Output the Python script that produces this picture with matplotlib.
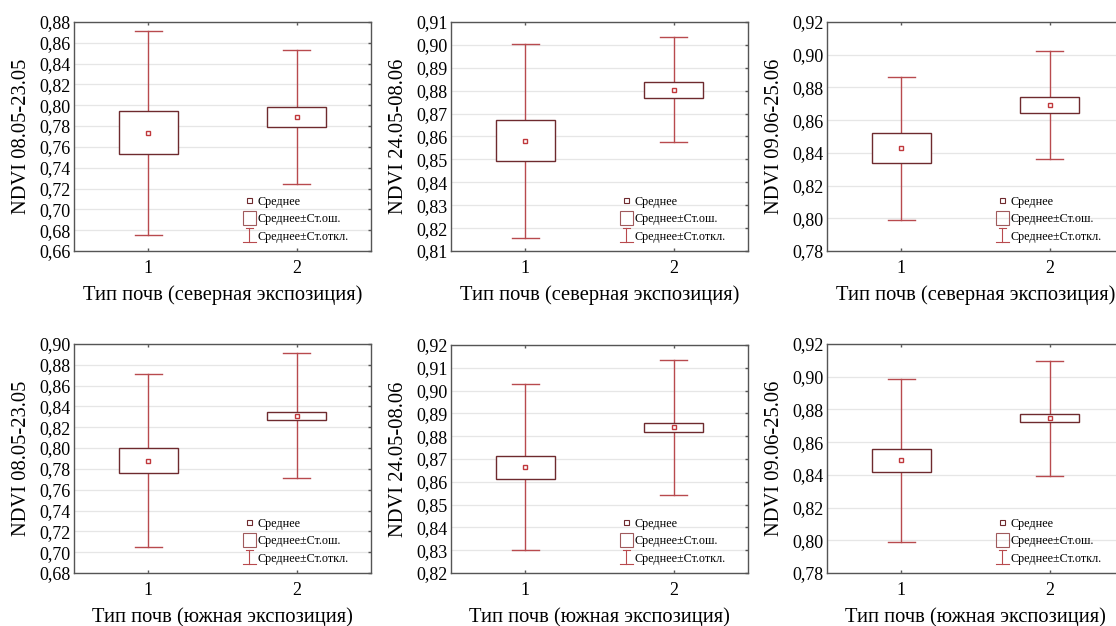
import matplotlib
matplotlib.use("Agg")
import matplotlib.pyplot as plt
from matplotlib.patches import Rectangle
from matplotlib.lines import Line2D
from matplotlib.legend_handler import HandlerBase
from matplotlib.ticker import FuncFormatter, MultipleLocator

plt.rcParams['font.family'] = ['Liberation Serif', 'DejaVu Serif']

categories = [1, 2]

# panel order: top row (north), bottom row (south)
ylabels = ["NDVI 08.05-23.05", "NDVI 24.05-08.06", "NDVI 09.06-25.06",
           "NDVI 08.05-23.05", "NDVI 24.05-08.06", "NDVI 09.06-25.06"]
xlabels = ["Тип почв (северная экспозиция)"] * 3 + ["Тип почв (южная экспозиция)"] * 3

mean_p1 = [0.7737, 0.7884]; se_p1 = [0.0209, 0.0097]; sd_p1 = [0.0980, 0.0644]
mean_p2 = [0.8582, 0.8805]; se_p2 = [0.0091, 0.0035]; sd_p2 = [0.0424, 0.0229]
mean_p3 = [0.8428, 0.8694]; se_p3 = [0.0092, 0.0050]; sd_p3 = [0.0436, 0.0330]
mean_p4 = [0.7880, 0.8310]; se_p4 = [0.0119, 0.0037]; sd_p4 = [0.0834, 0.0602]
mean_p5 = [0.8663, 0.8839]; se_p5 = [0.0050, 0.0020]; sd_p5 = [0.0364, 0.0295]
mean_p6 = [0.8488, 0.8747]; se_p6 = [0.0069, 0.0024]; sd_p6 = [0.0496, 0.0352]

ylims = [(0.66, 0.88, 0.02), (0.81, 0.91, 0.01), (0.78, 0.92, 0.02),
         (0.68, 0.90, 0.02), (0.82, 0.92, 0.01), (0.78, 0.92, 0.02)]

means = [mean_p1, mean_p2, mean_p3, mean_p4, mean_p5, mean_p6]
ses = [se_p1, se_p2, se_p3, se_p4, se_p5, se_p6]
sds = [sd_p1, sd_p2, sd_p3, sd_p4, sd_p5, sd_p6]

BOX_C = '#6e2a2e'
WHISK_C = '#b84a4e'
MEAN_C = '#c0383c'

W, H = 1116, 626
fig = plt.figure(figsize=(W / 100, H / 100), dpi=100)

# axes rectangles in pixels: left, top, right, bottom
rects_px = [(74, 22, 371, 251), (451, 22, 748, 251), (827, 22, 1124, 251),
            (74, 344, 371, 573), (451, 345, 748, 573), (827, 344, 1124, 573)]


class HandlerMean(HandlerBase):
    def create_artists(self, legend, orig, xd, yd, w, h, fontsize, trans):
        s = 4.0
        r = Rectangle((xd + w / 2 - s / 2, yd + h / 2 - s / 2), s, s, fill=False,
                      edgecolor=BOX_C, lw=0.8, transform=trans)
        return [r]


class HandlerBox(HandlerBase):
    def create_artists(self, legend, orig, xd, yd, w, h, fontsize, trans):
        r = Rectangle((xd, yd - 2.0), w, h + 4, fill=False,
                      edgecolor='#a05a5c', lw=0.8, transform=trans)
        return [r]


class HandlerBar(HandlerBase):
    def create_artists(self, legend, orig, xd, yd, w, h, fontsize, trans):
        cx = xd + w / 2
        l1 = Line2D([cx, cx], [yd - 2.0, yd + h + 2.0], color=WHISK_C, lw=0.8, transform=trans)
        l2 = Line2D([xd, xd + w], [yd - 2.0, yd - 2.0], color=WHISK_C, lw=0.8, transform=trans)
        l3 = Line2D([cx - 2.5, cx + 2.5], [yd + h + 2.0, yd + h + 2.0], color=WHISK_C, lw=0.8, transform=trans)
        return [l1, l2, l3]


fmt = FuncFormatter(lambda v, p: f"{v:.2f}".replace('.', ','))

for i in range(6):
    l, t, r, b = rects_px[i]
    ax = fig.add_axes([l / W, 1 - b / H, (r - l) / W, (b - t) / H])
    y0, y1, step = ylims[i]
    ax.set_xlim(0.5, 2.5)
    ax.set_ylim(y0, y1)
    ax.yaxis.set_major_locator(MultipleLocator(step))
    ax.yaxis.set_major_formatter(fmt)
    ax.set_xticks(categories)
    ax.set_xticklabels([str(c) for c in categories])
    ax.grid(axis='y', color='#e6e6e6', lw=0.9)
    ax.set_axisbelow(True)
    for sp in ax.spines.values():
        sp.set_color('#555555')
        sp.set_linewidth(1.0)
    ax.tick_params(axis='both', which='both', direction='in', length=2, width=1.0,
                   color='#555555', top=True, right=True, labelsize=13, pad=3)
    ax.tick_params(axis='y', left=False, pad=2.5)
    ax.tick_params(axis='x', pad=6.5)

    bw = 0.4
    cw = 0.18
    for xc, m, se, sd in zip(categories, means[i], ses[i], sds[i]):
        # whiskers (mean ± SD)
        ax.plot([xc, xc], [m + se, m + sd], color=WHISK_C, lw=1.0, zorder=2)
        ax.plot([xc, xc], [m - sd, m - se], color=WHISK_C, lw=1.0, zorder=2)
        ax.plot([xc - cw / 2, xc + cw / 2], [m + sd, m + sd], color=WHISK_C, lw=1.0, zorder=2)
        ax.plot([xc - cw / 2, xc + cw / 2], [m - sd, m - sd], color=WHISK_C, lw=1.0, zorder=2)
        # box (mean ± SE)
        ax.add_patch(Rectangle((xc - bw / 2, m - se), bw, 2 * se, fill=True, facecolor='white',
                               edgecolor=BOX_C, lw=1.0, zorder=3))
        # mean
        ax.plot([xc], [m], marker='s', ms=3.5, mfc='white', mec=MEAN_C, mew=1.0, zorder=4, ls='none')

    ax.set_ylabel(ylabels[i], fontsize=14.8, labelpad=6)
    ax.set_xlabel(xlabels[i], fontsize=14.8, labelpad=6)

    h1 = Line2D([], [])
    h2 = Rectangle((0, 0), 1, 1)
    h3 = Line2D([], [], color='r')
    leg = ax.legend([h1, h2, h3], ["Среднее", "Среднее±Ст.ош.", "Среднее±Ст.откл."],
                    handler_map={h1: HandlerMean(), h2: HandlerBox(), h3: HandlerBar()},
                    loc='lower left', bbox_to_anchor=(0.54, 0.0), frameon=False,
                    fontsize=8.7, handlelength=1.1, handletextpad=0.12, labelspacing=0.45,
                    borderaxespad=0.3)

fig.savefig("out.png", dpi=100)
